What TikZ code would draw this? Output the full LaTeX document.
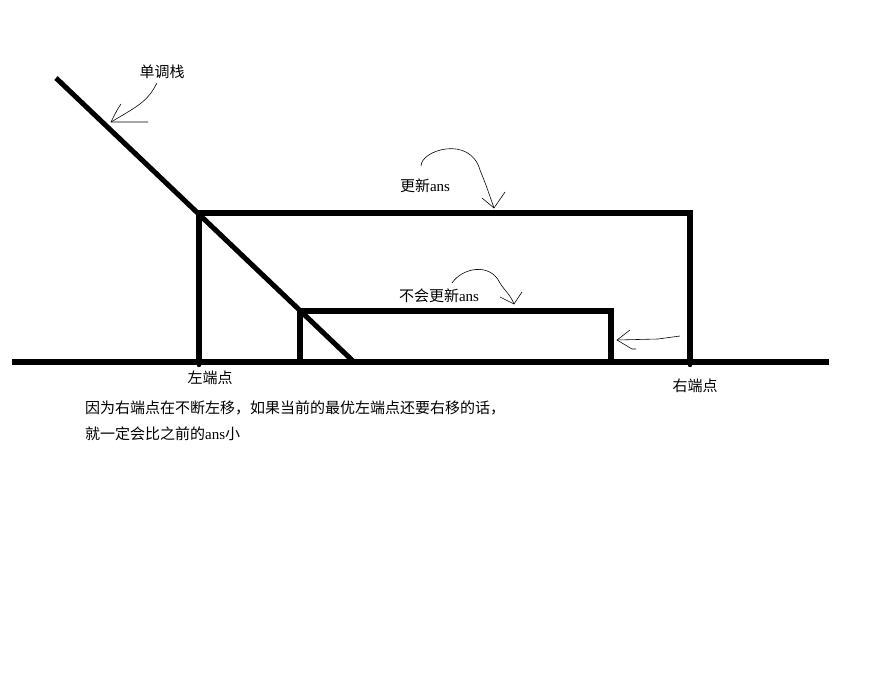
\documentclass[tikz,border=0pt]{standalone}
\usepackage{fontspec}
\setmainfont{Liberation Serif}
\newfontfamily\cjk{Noto Sans CJK SC}
\usetikzlibrary{positioning}
\tikzstyle{bold}=[line width=4.3pt]
\tikzstyle{pen}=[line width=0.5pt]
\tikzstyle{lbl}=[inner sep=0pt,font=\cjk\fontsize{12.8pt}{15pt}\selectfont]

\begin{document}
\begin{tikzpicture}[x=0.03cm,y=-0.03cm]
\useasboundingbox[fill=white] (0,0) rectangle (879,677);
% ground and stack
\coordinate (G1) at (12,362);
\coordinate (G2) at (829,362);
\coordinate (S1) at (56,78);
\coordinate (S2) at (354,362);
\coordinate (A) at (199,213);
\coordinate (B) at (690,213);
\coordinate (C) at (300,311);
\coordinate (D) at (611,311);
\draw[bold] (G1)--(G2);
\draw[bold] (S1)--(S2);
\draw[bold] (A|-G1)--(A)--(B)--(B|-G1);
\draw[bold] (C|-G1)--(C)--(D)--(D|-G1);
\fill (A|-G1)++(0,3) circle (2.2);
\fill (B|-G1)++(0,3) circle (2.2);
\fill (D) circle (2.6);
% labels
\node[lbl] (stk) at (162,72) {单调栈};
\node[lbl] (upd) at (425,186) {更新{\rmfamily ans}};
\node[lbl] (noupd) at (439,296) {不会更新{\rmfamily ans}};
\node[lbl] (lft) at (210,378) {左端点};
\node[lbl] (rgt) at (695,386) {右端点};
\node[lbl,anchor=west] (why) at (85,408) {因为右端点在不断左移，如果当前的最优左端点还要右移的话，};
\node[lbl,anchor=west] (then) at (85,434) {就一定会比之前的{\rmfamily ans}小};
% hand drawn arrows
\coordinate (p1) at (111,122);
\draw[pen] (157,83) .. controls (148,100) and (142,104) .. (p1);
\draw[pen] (121,104) .. controls (117,110) .. (p1) -- (148,122);
\coordinate (p2) at (494,208);
\draw[pen] (421,166) .. controls (421,150) and (470,135) .. (480,170) .. controls (486,185) .. (p2);
\draw[pen] (482,198) -- (p2) -- (505,192);
\coordinate (p3) at (514,304);
\draw[pen] (452,283) .. controls (462,268) and (490,262) .. (500,283) .. controls (504,290) and (510,294) .. (p3);
\draw[pen] (500,297) -- (p3) -- (522,292);
\coordinate (p4) at (617,340);
\draw[pen] (680,336) -- (658,339) -- (p4);
\draw[pen] (630,330) -- (p4) -- (632,349) -- (636,349);
\end{tikzpicture}
\end{document}
